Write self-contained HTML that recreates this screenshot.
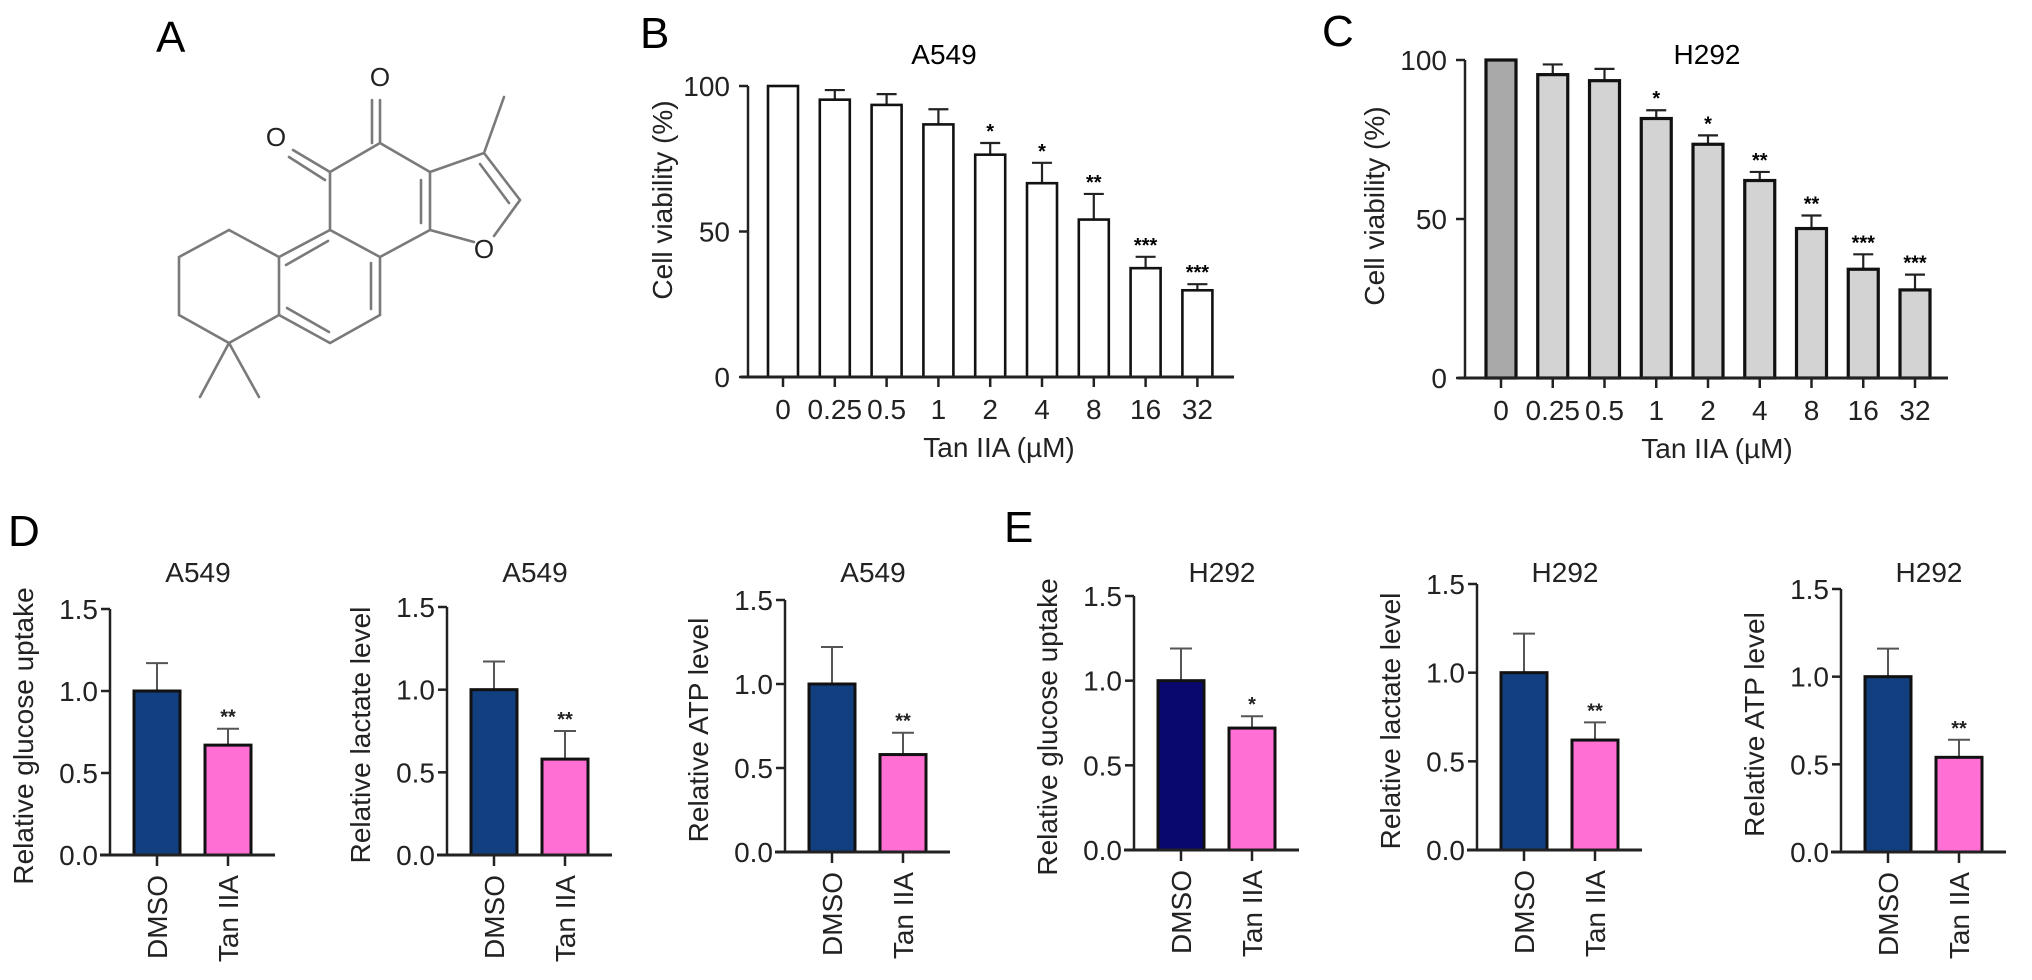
<!DOCTYPE html>
<html><head><meta charset="utf-8">
<style>
html,body{margin:0;padding:0;background:#fff;}
svg{display:block;font-family:"Liberation Sans",Arial,sans-serif;}
</style></head>
<body>
<svg id="fig" width="2032" height="980" viewBox="0 0 2032 980" xmlns="http://www.w3.org/2000/svg">
<g stroke="#7a7a7a" stroke-width="2.6" fill="none" stroke-linecap="round">
<polyline points="229,230 179,257 179,315 229,343 279,315 279,257 229,230"/>
<polyline points="279,257 330,230 380,257 380,315 330,343 279,315"/>
<polyline points="330,230 330,172 380,143 430,172 430,230 380,257"/>
<polyline points="430,172 484,153 520,200 494,236"/>
<line x1="474" y1="242" x2="430" y2="230"/>
<line x1="484" y1="153" x2="504" y2="97"/>
<line x1="380" y1="143" x2="380" y2="100"/>
<line x1="372" y1="143" x2="372" y2="100"/>
<line x1="330" y1="172" x2="293" y2="150"/>
<line x1="325" y1="180" x2="289" y2="157"/>
<line x1="229" y1="343" x2="200" y2="397"/>
<line x1="229" y1="343" x2="259" y2="397"/>
<line x1="286" y1="265" x2="328" y2="241"/>
<line x1="287" y1="308" x2="329" y2="332"/>
<line x1="371" y1="263" x2="371" y2="309"/>
<line x1="421" y1="180" x2="421" y2="223"/>
<line x1="480" y1="164" x2="509" y2="203"/>
</g>
<g font-size="26" fill="#222" text-anchor="middle">
<text x="380" y="86">O</text>
<text x="276" y="146">O</text>
<text x="484" y="258">O</text>
</g>
<g font-size="44" fill="#000">
<text x="156" y="52">A</text>
<text x="640" y="48">B</text>
<text x="1322" y="46">C</text>
<text x="8" y="546">D</text>
<text x="1004" y="542">E</text>
</g>
<g id="charts"></g>
</svg>
<script>
// Panel B/C data
const doseCats = ["0","0.25","0.5","1","2","4","8","16","32"];
const bValues = [100,95.3,93.5,86.8,76.4,66.6,54.1,37.4,29.8];
const bErrors = [0,3.3,3.7,5.2,4.0,7.0,8.8,3.9,2.1];
const bStars = ["","","","","*","*","**","***","***"];
const cValues = [100,95.4,93.5,81.6,73.5,62.1,47.0,34.2,27.7];
const cErrors = [0,3.2,3.7,2.6,2.8,2.7,4.1,4.7,4.8];
const cStars = ["","","","*","*","**","**","***","***"];
const viabilityTicks = [0,50,100];
// Panels D/E data
const groupCats = ["DMSO","Tan IIA"];
const d1Values = [1.0,0.67]; const d1Errors = [0.17,0.1]; const d1Stars = ["","**"];
const d2Values = [1.0,0.58]; const d2Errors = [0.17,0.17]; const d2Stars = ["","**"];
const d3Values = [1.0,0.58]; const d3Errors = [0.22,0.13]; const d3Stars = ["","**"];
const e1Values = [1.0,0.72]; const e1Errors = [0.19,0.07]; const e1Stars = ["","*"];
const e2Values = [1.0,0.62]; const e2Errors = [0.22,0.1]; const e2Stars = ["","**"];
const e3Values = [1.0,0.54]; const e3Errors = [0.16,0.1]; const e3Stars = ["","**"];
const relTicks = [0.0,0.5,1.0,1.5];
const relTickLabels = ["0.0","0.5","1.0","1.5"];

const NS = "http://www.w3.org/2000/svg";
const root = document.getElementById('charts');
function mk(tag, attrs, parent, text){
  const e = document.createElementNS(NS, tag);
  for (const k in attrs) e.setAttribute(k, attrs[k]);
  if (text !== undefined) e.textContent = text;
  parent.appendChild(e);
  return e;
}

function doseChart(cfg){
  const g = mk('g', {}, root);
  
  
  const y = v => cfg.y0 - (cfg.y0 - cfg.y100) * v / 100;
  const x = i => cfg.x0 + cfg.pitch * i;
  const t = mk('text', {x: cfg.titleX, y: 64, 'font-size': 28, 'text-anchor': 'middle'}, g, cfg.title);
  
  
  const yl = mk('text', {transform: `translate(${cfg.ylabX},${cfg.ylabY}) rotate(-90)`, 'font-size': 28, 'text-anchor': 'middle', fill: '#222'}, g, 'Cell viability (%)');
  
  
  const ax = mk('line', {x1: cfg.axis, y1: y(100), x2: cfg.axis, y2: cfg.y0, stroke: '#222', 'stroke-width': 2.5}, g);
  
  
  viabilityTicks.forEach(v => {
    mk('line', {x1: cfg.axis - 9, x2: cfg.axis, y1: y(v), y2: y(v), stroke: '#222', 'stroke-width': 2.5}, g);
    const tl = mk('text', {x: cfg.axis - 18, y: y(v) + 10, 'font-size': 28, 'text-anchor': 'end', fill: '#222'}, g, String(v));
    
    
  });
  doseCats.forEach((c, i) => {
    const v = cfg.values[i], e = cfg.errors[i];
    if (e > 0) {
      mk('line', {x1: x(i), x2: x(i), y1: y(v), y2: y(v + e), stroke: '#222', 'stroke-width': 2.2}, g);
      mk('line', {x1: x(i) - 10, x2: x(i) + 10, y1: y(v + e), y2: y(v + e), stroke: '#222', 'stroke-width': 2.2}, g);
    }
    const b = mk('rect', {x: x(i) - 15, y: y(v), width: 30, height: cfg.y0 - y(v), fill: (i === 0 ? cfg.fill0 : cfg.fill), stroke: '#111', 'stroke-width': cfg.sw}, g);
    
    
    if (cfg.stars[i]) {
      const s = mk('text', {x: x(i), y: y(v + e) - 5, 'font-size': 20, 'text-anchor': 'middle', 'font-weight': 'bold'}, g, cfg.stars[i]);
      
      
    }
    mk('line', {x1: x(i), x2: x(i), y1: cfg.y0, y2: cfg.y0 + 10, stroke: '#222', 'stroke-width': 2.5}, g);
    const tl = mk('text', {x: x(i), y: cfg.y0 + 42, 'font-size': 28, 'text-anchor': 'middle', fill: '#222'}, g, c);
    
    
  });
  const xa = mk('line', {x1: cfg.axis - 7, x2: cfg.xEnd, y1: cfg.y0, y2: cfg.y0, stroke: '#222', 'stroke-width': 3}, g);
  
  
  const xt = mk('text', {x: cfg.xlabX, y: cfg.y0 + 80, 'font-size': 28, 'text-anchor': 'middle', fill: '#222'}, g, 'Tan IIA (\u00b5M)');
  
  
}

doseChart({name: 'panel-b-a549-viability', axis: 748, y0: 377, y100: 86, x0: 783, pitch: 51.8, xEnd: 1234, values: bValues, errors: bErrors, stars: bStars, fill: '#fff', fill0: '#fff', sw: 2.6, title: 'A549', titleX: 944, ylabX: 672, ylabY: 200, xlabX: 999});
doseChart({name: 'panel-c-h292-viability', axis: 1465, y0: 378, y100: 60, x0: 1501, pitch: 51.75, xEnd: 1948, values: cValues, errors: cErrors, stars: cStars, fill: '#d3d3d3', fill0: '#a9a9a9', sw: 3.2, title: 'H292', titleX: 1707, ylabX: 1384, ylabY: 206, xlabX: 1717});

function relChart(cfg){
  const g = mk('g', {}, root);
  
  
  const y = v => cfg.y0 - (cfg.y0 - cfg.y15) * v / 1.5;
  const cx = [cfg.axis + 47, cfg.axis + 118];
  const t = mk('text', {x: cfg.axis + 88, y: 582, 'font-size': 28, 'text-anchor': 'middle', fill: '#222'}, g, cfg.title);
  
  
  const yl = mk('text', {transform: `translate(${cfg.axis - 77},${(cfg.y0 + cfg.y15) / 2 + 4}) rotate(-90)`, 'font-size': 28, 'text-anchor': 'middle', fill: '#222'}, g, cfg.ylabel);
  
  
  mk('line', {x1: cfg.axis, x2: cfg.axis, y1: cfg.y15, y2: cfg.y0, stroke: '#222', 'stroke-width': 2.5}, g);
  relTicks.forEach((v, k) => {
    mk('line', {x1: cfg.axis - 9, x2: cfg.axis, y1: y(v), y2: y(v), stroke: '#222', 'stroke-width': 2.5}, g);
    const tl = mk('text', {x: cfg.axis - 12, y: y(v) + 10, 'font-size': 28, 'text-anchor': 'end', fill: '#222'}, g, relTickLabels[k]);
    
    
  });
  groupCats.forEach((c, i) => {
    const v = cfg.values[i], e = cfg.errors[i];
    mk('line', {x1: cx[i], x2: cx[i], y1: y(v), y2: y(v + e), stroke: '#555', 'stroke-width': 2}, g);
    mk('line', {x1: cx[i] - 11, x2: cx[i] + 11, y1: y(v + e), y2: y(v + e), stroke: '#555', 'stroke-width': 2}, g);
    const b = mk('rect', {x: cx[i] - 23, y: y(v), width: 46, height: cfg.y0 - y(v), fill: i === 0 ? cfg.dmso : '#ff6fd4', stroke: '#111', 'stroke-width': 3}, g);
    
    
    if (cfg.stars[i]) {
      const s = mk('text', {x: cx[i], y: y(v + e) - 5, 'font-size': 20, 'text-anchor': 'middle', 'font-weight': 'bold', fill: '#222'}, g, cfg.stars[i]);
      
      
    }
    mk('line', {x1: cx[i], x2: cx[i], y1: cfg.y0, y2: cfg.y0 + 11, stroke: '#222', 'stroke-width': 2.5}, g);
    const tl = mk('text', {transform: `translate(${cx[i] + 10},${cfg.y0 + 20}) rotate(-90)`, 'font-size': 28, 'text-anchor': 'end', fill: '#222'}, g, c);
    
    
  });
  const xa = mk('line', {x1: cfg.axis - 10, x2: cfg.axis + 165, y1: cfg.y0, y2: cfg.y0, stroke: '#222', 'stroke-width': 3}, g);
  
  
}

relChart({name: 'panel-d-a549-glucose', axis: 110, y0: 855, y15: 609, values: d1Values, errors: d1Errors, stars: d1Stars, title: 'A549', ylabel: 'Relative glucose uptake', dmso: '#123f80'});
relChart({name: 'panel-d-a549-lactate', axis: 447, y0: 855, y15: 607, values: d2Values, errors: d2Errors, stars: d2Stars, title: 'A549', ylabel: 'Relative lactate level', dmso: '#123f80'});
relChart({name: 'panel-d-a549-atp', axis: 785, y0: 852, y15: 600, values: d3Values, errors: d3Errors, stars: d3Stars, title: 'A549', ylabel: 'Relative ATP level', dmso: '#123f80'});
relChart({name: 'panel-e-h292-glucose', axis: 1134, y0: 850, y15: 596, values: e1Values, errors: e1Errors, stars: e1Stars, title: 'H292', ylabel: 'Relative glucose uptake', dmso: '#08086e'});
relChart({name: 'panel-e-h292-lactate', axis: 1477, y0: 850, y15: 584, values: e2Values, errors: e2Errors, stars: e2Stars, title: 'H292', ylabel: 'Relative lactate level', dmso: '#123f80'});
relChart({name: 'panel-e-h292-atp', axis: 1841, y0: 852, y15: 589, values: e3Values, errors: e3Errors, stars: e3Stars, title: 'H292', ylabel: 'Relative ATP level', dmso: '#123f80'});
</script>
</body></html>
